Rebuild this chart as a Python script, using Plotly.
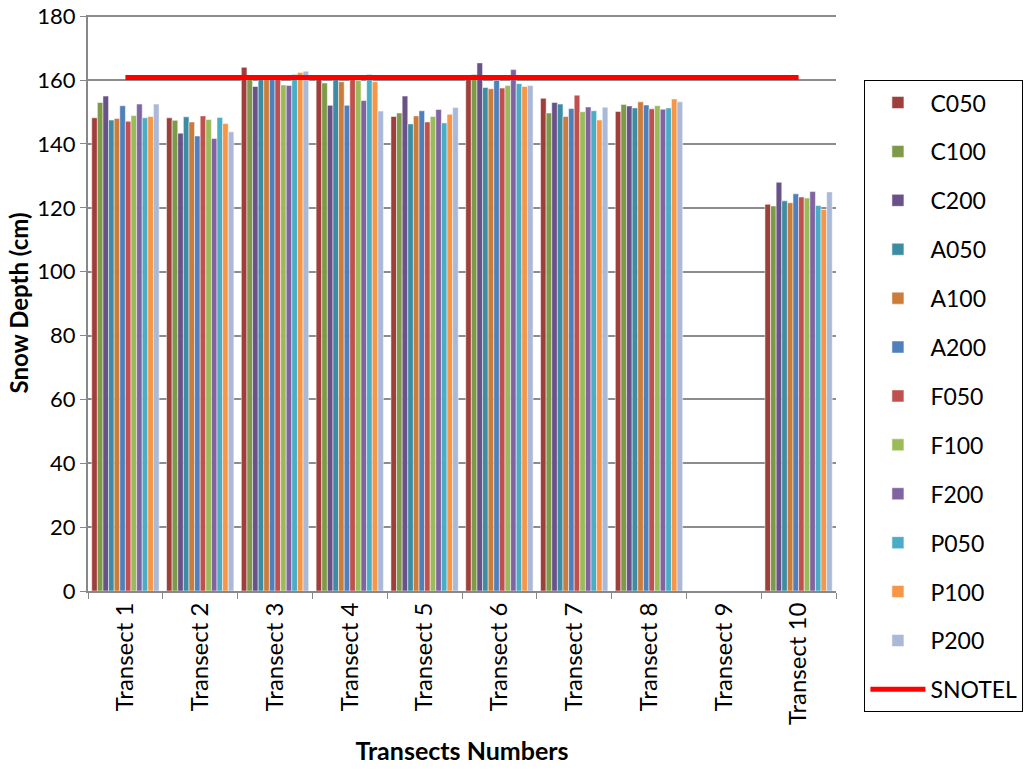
import plotly.graph_objects as go

categories = ["Transect 1", "Transect 2", "Transect 3", "Transect 4", "Transect 5",
              "Transect 6", "Transect 7", "Transect 8", "Transect 9", "Transect 10"]

C050 = [148.2, 148.2, 164.0, 160.2, 148.6, 161.5, 154.3, 150.2, None, 121.1]
C100 = [153.0, 147.4, 160.2, 159.1, 149.7, 161.8, 149.7, 152.4, None, 120.6]
C200 = [155.0, 143.4, 158.0, 152.1, 155.0, 165.4, 153.0, 151.9, None, 128.0]
A050 = [147.5, 148.5, 160.5, 160.2, 146.3, 157.7, 152.5, 151.3, None, 122.2]
A100 = [148.0, 146.9, 160.2, 159.5, 148.8, 157.3, 148.6, 153.2, None, 121.6]
A200 = [152.0, 142.5, 160.2, 152.1, 150.4, 160.0, 151.1, 152.2, None, 124.4]
F050 = [147.1, 148.8, 160.2, 160.2, 146.9, 157.5, 155.3, 151.0, None, 123.4]
F100 = [148.9, 147.7, 158.5, 159.9, 148.6, 158.3, 150.1, 152.0, None, 123.1]
F200 = [152.5, 141.7, 158.3, 153.6, 150.8, 163.3, 151.6, 150.9, None, 125.1]
P050 = [148.2, 148.3, 161.8, 161.8, 146.6, 158.9, 150.4, 151.3, None, 120.7]
P100 = [148.6, 146.4, 162.4, 159.5, 149.3, 158.0, 147.5, 154.1, None, 119.5]
P200 = [152.5, 143.8, 162.8, 150.3, 151.4, 158.3, 151.5, 153.2, None, 125.0]
SNOTEL = [160.8] * 10

series = [
    ("C050", C050, "#9E3F3C"),
    ("C100", C100, "#7E9A49"),
    ("C200", C200, "#685287"),
    ("A050", A050, "#3D8CA3"),
    ("A100", A100, "#CB7B3A"),
    ("A200", A200, "#4F80BC"),
    ("F050", F050, "#C0504D"),
    ("F100", F100, "#9BBB59"),
    ("F200", F200, "#8064A2"),
    ("P050", P050, "#4BACC6"),
    ("P100", P100, "#F79646"),
    ("P200", P200, "#AAB9D7"),
]

FONT = "Lato, Open Sans, sans-serif"

fig = go.Figure()
for i, (name, vals, color) in enumerate(series):
    fig.add_trace(go.Bar(
        x=categories, y=vals, name=name, legendgroup=name,
        marker=dict(color=color, line=dict(color="white", width=0.5)),
    ))
fig.add_trace(go.Scatter(
    x=categories, y=SNOTEL, name="SNOTEL", mode="lines", legendgroup="SNOTEL",
    line=dict(color="#FF0000", width=5),
))

fig.update_layout(
    width=1024, height=776,
    margin=dict(l=88, r=188, t=15, b=185, autoexpand=False),
    plot_bgcolor="white", paper_bgcolor="white",
    barmode="group", bargap=0.1, bargroupgap=0,
    font=dict(family=FONT, size=21, color="black"),
    showlegend=True,
    legend=dict(
        x=1.038, y=0.887, xanchor="left", yanchor="top",
        bordercolor="black", borderwidth=1,
        font=dict(family=FONT, size=23, color="black"),
        tracegroupgap=16, itemwidth=55, maxheight=700,
    ),
    xaxis=dict(
        tickangle=-90, showline=True, linecolor="#888888", linewidth=2,
        ticks="outside", tickson="boundaries", ticklen=6, tickcolor="#888888",
        tickfont=dict(size=24), automargin=False,
        title=dict(text="<b>Transects Numbers</b>", font=dict(size=25), standoff=18),
    ),
    yaxis=dict(
        range=[0, 180.4], tickvals=[0, 20, 40, 60, 80, 100, 120, 140, 160, 180],
        showgrid=True, gridcolor="#8C8C8C", gridwidth=2,
        showline=True, linecolor="#888888", linewidth=2,
        ticks="outside", ticklen=6, tickcolor="#888888",
        tickfont=dict(size=22), automargin=False, ticklabeloverflow="allow",
        title=dict(text="<b>Snow Depth (cm)</b>", font=dict(size=24), standoff=2),
        zeroline=False,
    ),
)

fig.write_html("out.html", config={"displayModeBar": False},
               post_script="document.body.style.margin='0';")
